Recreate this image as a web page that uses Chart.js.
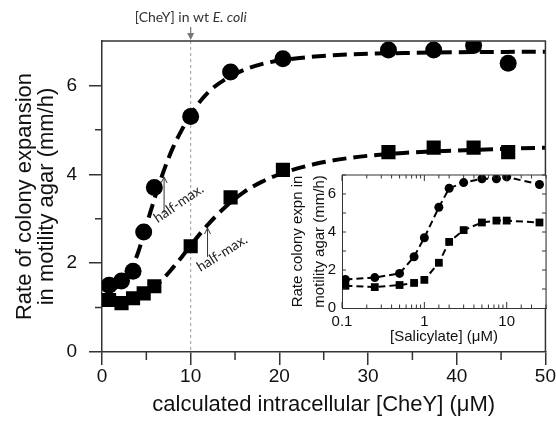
<!DOCTYPE html>
<html lang="en">
<head>
<meta charset="UTF-8">
<title>Colony expansion vs. intracellular CheY</title>
<script src="https://cdn.jsdelivr.net/npm/chart.js"></script>
<style>
  body { margin: 0; background: #fff; }
  #wrap { position: relative; width: 556px; height: 425px; }
  #mainChart { position: absolute; left: 0; top: 0; }
  #insetChart { position: absolute; left: 280px; top: 160px; }
</style>
</head>
<body>
<div id="wrap">
  <canvas id="mainChart" width="556" height="425"></canvas>
  <canvas id="insetChart" width="276" height="190"></canvas>
</div>

<script>
  // measured expansion rates (mm/h) for the two strains
  const cheyConc = [0.8, 2.2, 3.5, 4.7, 5.9, 10, 14.5, 20.4, 32.3, 37.4, 41.9, 45.8];
  const salicylate = [0.11, 0.25, 0.5, 0.75, 1, 1.5, 2, 3, 5, 7.5, 10, 25];
  const rateCircle = [1.5, 1.6, 1.82, 2.7, 3.7, 5.3, 6.3, 6.6, 6.8, 6.8, 6.9, 6.5];
  const rateSquare = [1.17, 1.1, 1.21, 1.32, 1.48, 2.38, 3.48, 4.1, 4.5, 4.6, 4.6, 4.5];

  // fitted curves (dashed)
  const fitConc = [1, 2, 3, 4, 5, 6, 7, 8, 9, 10, 12, 14, 16, 18, 20, 24, 28, 34, 42, 50];
  const fitCircle = [1.42, 1.5, 1.75, 2.2, 2.85, 3.5, 4.1, 4.6, 5.0, 5.35, 5.85, 6.15, 6.35, 6.48, 6.56, 6.65, 6.7, 6.73, 6.75, 6.76];
  const fitSquare = [1.1, 1.12, 1.15, 1.23, 1.33, 1.48, 1.67, 1.9, 2.14, 2.4, 2.88, 3.28, 3.6, 3.83, 4.0, 4.23, 4.37, 4.48, 4.55, 4.6];

  const mainMinorX = [5, 15, 25, 35, 45];
  const mainMinorY = [1, 3, 5];
  const insetLogLabels = [0.1, 1, 10];

  const FONT = "'Liberation Sans', Arial, sans-serif";
  const NOTE_FONT = "Lato, 'Open Sans', sans-serif";
  const INK = '#111';
  const FRAME = '#333';

  const pts = (xs, ys) => xs.map((x, i) => ({ x: x, y: ys[i] }));

  function arrowUp(ctx, x, yBottom, yTop, color) {
    ctx.save();
    ctx.strokeStyle = color;
    ctx.lineWidth = 1;
    ctx.beginPath();
    ctx.moveTo(x, yBottom);
    ctx.lineTo(x, yTop);
    ctx.moveTo(x - 3, yTop + 6);
    ctx.lineTo(x, yTop);
    ctx.lineTo(x + 3, yTop + 6);
    ctx.stroke();
    ctx.restore();
  }

  function rotatedNote(ctx, text, x, y, angle) {
    ctx.save();
    ctx.translate(x, y);
    ctx.rotate(angle);
    ctx.font = '14px ' + NOTE_FONT;
    ctx.fillStyle = '#222';
    ctx.textAlign = 'left';
    ctx.textBaseline = 'alphabetic';
    ctx.fillText(text, 0, 0);
    ctx.restore();
  }

  const mainDecor = {
    id: 'mainDecor',
    beforeDatasetsDraw(chart) {
      const { ctx, chartArea: a, scales: { x } } = chart;
      const px = x.getPixelForValue(10);
      ctx.save();
      ctx.strokeStyle = '#9a9a9a';
      ctx.lineWidth = 1;
      ctx.setLineDash([3, 3]);
      ctx.beginPath();
      ctx.moveTo(px, a.top);
      ctx.lineTo(px, a.bottom);
      ctx.stroke();
      ctx.restore();
    },
    afterDraw(chart) {
      const { ctx, chartArea: a, scales: { x, y } } = chart;
      ctx.save();
      ctx.strokeStyle = FRAME;
      ctx.lineWidth = 1.5;
      ctx.beginPath();
      ctx.moveTo(a.left, a.top);
      ctx.lineTo(a.right, a.top);
      ctx.lineTo(a.right, a.bottom);
      // short minor ticks
      mainMinorX.forEach(v => {
        const px = x.getPixelForValue(v);
        ctx.moveTo(px, a.bottom);
        ctx.lineTo(px, a.bottom + 8);
      });
      mainMinorY.forEach(v => {
        const py = y.getPixelForValue(v);
        ctx.moveTo(a.left, py);
        ctx.lineTo(a.left - 7, py);
      });
      ctx.stroke();
      ctx.restore();

      // wild-type CheY marker
      const px = x.getPixelForValue(10);
      ctx.save();
      ctx.font = '14px ' + NOTE_FONT;
      const part1 = '[CheY] in wt ';
      const w1 = ctx.measureText(part1).width;
      ctx.font = 'italic 14px ' + NOTE_FONT;
      const w2 = ctx.measureText('E. coli').width;
      const x0 = px - (w1 + w2) / 2;
      ctx.fillStyle = '#333';
      ctx.textBaseline = 'alphabetic';
      ctx.font = '14px ' + NOTE_FONT;
      ctx.fillText(part1, x0, 22);
      ctx.font = 'italic 14px ' + NOTE_FONT;
      ctx.fillText('E. coli', x0 + w1, 22);
      ctx.strokeStyle = '#777';
      ctx.fillStyle = '#777';
      ctx.lineWidth = 1.2;
      ctx.beginPath();
      ctx.moveTo(px, 27);
      ctx.lineTo(px, 35);
      ctx.stroke();
      ctx.beginPath();
      ctx.moveTo(px - 3.5, 33);
      ctx.lineTo(px + 3.5, 33);
      ctx.lineTo(px, 40);
      ctx.closePath();
      ctx.fill();
      ctx.restore();

      // half-maximum markers
      arrowUp(ctx, x.getPixelForValue(7.0), y.getPixelForValue(3.13), y.getPixelForValue(3.94), '#333');
      arrowUp(ctx, x.getPixelForValue(11.9), y.getPixelForValue(2.14), y.getPixelForValue(2.79), '#333');
      rotatedNote(ctx, 'half-max.', x.getPixelForValue(6.3), y.getPixelForValue(2.9), -0.6);
      rotatedNote(ctx, 'half-max.', x.getPixelForValue(11.1), y.getPixelForValue(1.8), -0.56);
    }
  };

  new Chart(document.getElementById('mainChart'), {
    type: 'scatter',
    data: {
      datasets: [
        {
          data: pts(cheyConc, rateCircle),
          pointStyle: 'circle',
          pointRadius: 8.5,
          backgroundColor: '#000',
          borderWidth: 0,
          showLine: false
        },
        {
          data: pts(cheyConc, rateSquare),
          pointStyle: 'rect',
          pointRadius: 10,
          backgroundColor: '#000',
          borderWidth: 0,
          showLine: false
        },
        {
          data: pts(fitConc, fitCircle),
          showLine: true,
          pointRadius: 0,
          borderColor: '#000',
          borderWidth: 4,
          borderDash: [14, 7],
          cubicInterpolationMode: 'monotone'
        },
        {
          data: pts(fitConc, fitSquare),
          showLine: true,
          pointRadius: 0,
          borderColor: '#000',
          borderWidth: 4,
          borderDash: [14, 7],
          cubicInterpolationMode: 'monotone'
        }
      ]
    },
    options: {
      responsive: false,
      animation: false,
      layout: { padding: { left: 0, top: 41, right: 10, bottom: 0 } },
      plugins: { legend: { display: false }, tooltip: { enabled: false } },
      scales: {
        x: {
          type: 'linear',
          min: 0,
          max: 50,
          afterFit: s => { s.height = 73; },
          border: { color: FRAME, width: 1.5 },
          grid: { drawOnChartArea: false, tickLength: 13, color: FRAME, lineWidth: 1.5 },
          ticks: { stepSize: 10, padding: 0, color: INK, font: { family: FONT, size: 19 } },
          title: {
            display: true,
            text: 'calculated intracellular [CheY] (μM)',
            color: INK,
            font: { family: FONT, size: 22, lineHeight: 1 },
            padding: { top: 0, bottom: 9 }
          }
        },
        y: {
          min: 0,
          max: 7,
          afterFit: s => { s.width = 102; },
          border: { color: FRAME, width: 1.5 },
          grid: { drawOnChartArea: false, tickLength: 13, color: FRAME, lineWidth: 1.5 },
          ticks: { stepSize: 2, includeBounds: false, padding: 12, color: INK, font: { family: FONT, size: 19 } },
          title: {
            display: true,
            text: ['Rate of colony expansion', 'in motility agar (mm/h)'],
            color: INK,
            font: { family: FONT, size: 22, lineHeight: 1 },
            padding: { top: 14, bottom: 0 }
          }
        }
      }
    },
    plugins: [mainDecor]
  });

  // inset: same strains against salicylate
  const isDecade = v => Math.abs(Math.log10(v) - Math.round(Math.log10(v))) < 1e-6;

  const insetDecor = {
    id: 'insetDecor',
    beforeDraw(chart) {
      const { ctx, chartArea: a } = chart;
      ctx.save();
      ctx.fillStyle = '#fff';
      ctx.fillRect(a.left, a.top, a.right - a.left, a.bottom - a.top);
      ctx.restore();
    },
    afterDraw(chart) {
      const { ctx, chartArea: a, scales: { x, y } } = chart;
      ctx.save();
      ctx.strokeStyle = FRAME;
      ctx.lineWidth = 1;
      ctx.beginPath();
      ctx.moveTo(a.left, a.top);
      ctx.lineTo(a.right, a.top);
      ctx.lineTo(a.right, a.bottom);
      x.ticks.forEach(t => {
        const px = x.getPixelForValue(t.value);
        const len = isDecade(t.value) ? 6 : 3.5;
        ctx.moveTo(px, a.bottom);
        ctx.lineTo(px, a.bottom - len);
        ctx.moveTo(px, a.top);
        ctx.lineTo(px, a.top + len);
      });
      for (let v = 1; v <= 7; v++) {
        const py = y.getPixelForValue(v);
        ctx.moveTo(a.left, py);
        ctx.lineTo(a.left + 4, py);
        ctx.moveTo(a.right, py);
        ctx.lineTo(a.right - 4, py);
      }
      ctx.stroke();
      ctx.restore();
    }
  };

  const insetLine = {
    showLine: true,
    borderColor: '#000',
    borderWidth: 2,
    borderDash: [7, 4],
    backgroundColor: '#000',
    pointBorderWidth: 0
  };

  new Chart(document.getElementById('insetChart'), {
    type: 'scatter',
    data: {
      datasets: [
        Object.assign({ data: pts(salicylate, rateCircle), pointStyle: 'circle', pointRadius: 4.5 }, insetLine),
        Object.assign({ data: pts(salicylate, rateSquare), pointStyle: 'rect', pointRadius: 5.5 }, insetLine)
      ]
    },
    options: {
      responsive: false,
      animation: false,
      layout: { padding: { left: 0, top: 15, right: 10, bottom: 0 } },
      plugins: { legend: { display: false }, tooltip: { enabled: false } },
      scales: {
        x: {
          type: 'logarithmic',
          min: 0.1,
          max: 30,
          afterFit: s => { s.height = 42; },
          border: { color: FRAME, width: 1 },
          grid: { drawOnChartArea: false, drawTicks: false },
          ticks: {
            autoSkip: false,
            maxRotation: 0,
            padding: 5,
            color: INK,
            font: { family: FONT, size: 15 },
            callback: v => (insetLogLabels.some(d => Math.abs(d - v) < 1e-9) ? String(v) : '')
          },
          title: {
            display: true,
            text: '[Salicylate] (μM)',
            color: INK,
            font: { family: FONT, size: 15, lineHeight: 1.2 },
            padding: { top: 0, bottom: 4 }
          }
        },
        y: {
          min: 0,
          max: 7,
          afterFit: s => { s.width = 62; },
          border: { color: FRAME, width: 1 },
          grid: { drawOnChartArea: false, drawTicks: false },
          ticks: { stepSize: 2, includeBounds: false, padding: 6, color: INK, font: { family: FONT, size: 15 } },
          title: {
            display: true,
            text: ['Rate colony expn in', 'motility agar (mm/h)'],
            color: INK,
            font: { family: FONT, size: 15, lineHeight: 1.45 },
            padding: { top: 7, bottom: 0 }
          }
        }
      }
    },
    plugins: [insetDecor]
  });
</script>
</body>
</html>
